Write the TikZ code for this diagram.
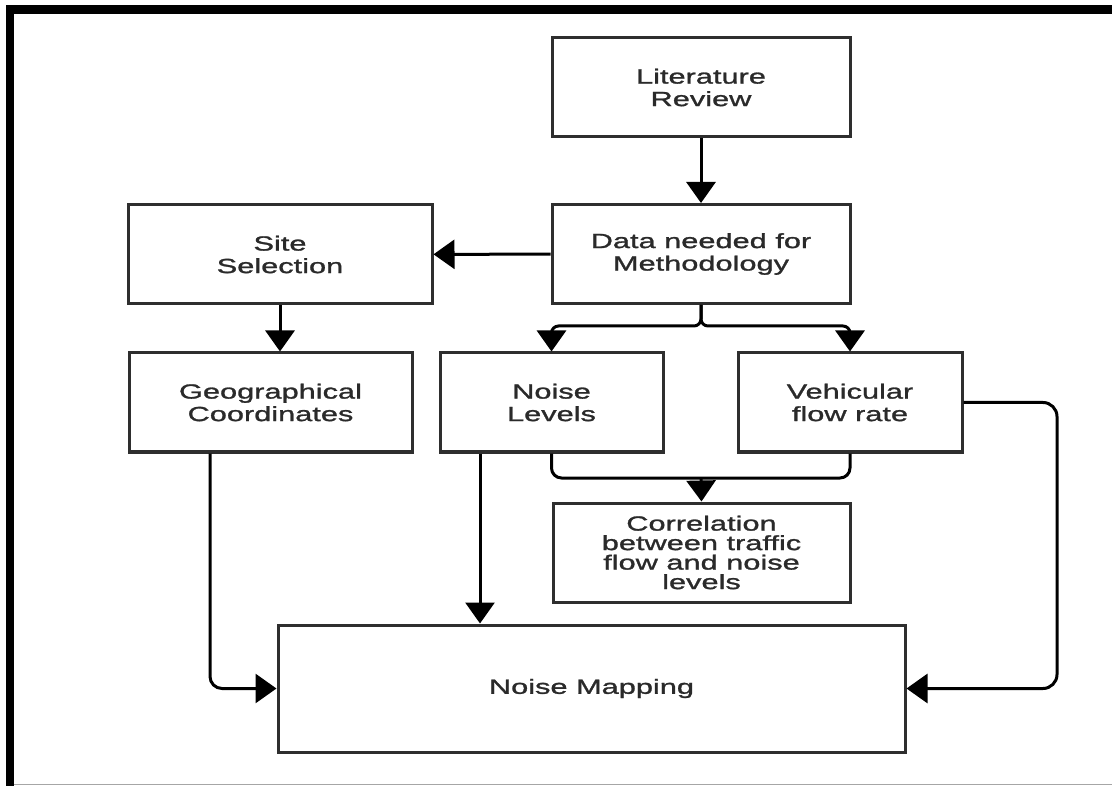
\documentclass[tikz,border=0pt]{standalone}
\usepackage{fontspec}
\setmainfont{Liberation Sans}[FakeStretch=1.5,FakeBold=1.3]
\usetikzlibrary{arrows.meta}
\definecolor{boxgray}{HTML}{2E2E2E}
\definecolor{txtgray}{HTML}{2A2A2A}
\tikzset{
  etape/.style={draw=boxgray, line width=3pt, minimum width=#1, minimum height=99pt,
    align=center, text=txtgray, inner sep=0pt, font=\fontsize{20.5}{22.5}\selectfont},
  fleche/.style={-{Triangle[width=29pt,length=21pt]}, line width=3pt},
  trait/.style={line width=3pt},
}
\begin{document}
\begin{tikzpicture}  % ------ Methodologie --------------
      [x=1pt,y=-1pt]
    \useasboundingbox (0,0) rectangle (1112,786);
    % cadre
    \fill (6,5) rectangle (1112,14);
    \fill (6,5) rectangle (14,786);
    \fill[gray!70] (14,783.5) rectangle (1112,784.5);

    \node[etape=298pt] (lit) at (701,87.5) {Literature\\Review};
    \node[etape=298pt] (data) at (701,254) {Data needed for\\Methodology};
    \node[etape=304pt] (site) at (280,254.5) {Site\\Selection};
    \node[etape=283pt] (geo) at (270.5,402.5) {Geographical\\Coordinates};
    \node[etape=223pt] (noise) at (551.5,402.5) {Noise\\Levels};
    \node[etape=224pt] (vehic) at (850,402.5) {Vehicular\\flow rate};
    \node[etape=297pt, font=\fontsize{20.5}{19.5}\selectfont] (corr) at (701.5,552.5)
        {Correlation\\between traffic\\flow and noise\\levels};
    \node[etape=627pt, minimum height=127pt] (map) at (591.5,688.5) {Noise Mapping};

    \coordinate (split) at (701,326);
    \coordinate (join) at (701,478);
    \coordinate (rbend) at (1057,688.5);

    \draw[fleche] (lit) -- (data);
    \draw[fleche] (data) -- (site);
    \draw[fleche] (site.south) -- (site.south |- geo.north);
    \draw[fleche, rounded corners=7pt] (data.south) -- (split) -| (noise.north);
    \draw[fleche, rounded corners=7pt] (data.south) -- (split) -| (vehic.north);
    \draw[trait, rounded corners=10pt] (noise.south) |- (join) -| (vehic.south);
    \draw[fleche] (join) -- (corr.north);
    \draw[fleche] ([xshift=-71.5pt]noise.south) -- ([xshift=-71.5pt]noise.south |- map.north);
    \draw[fleche, rounded corners=12pt] ([xshift=-60.5pt]geo.south) |- (map.west);
    \draw[fleche, rounded corners=14pt] (vehic.east) -| (rbend) -- (map.east);
\end{tikzpicture}
\end{document}
